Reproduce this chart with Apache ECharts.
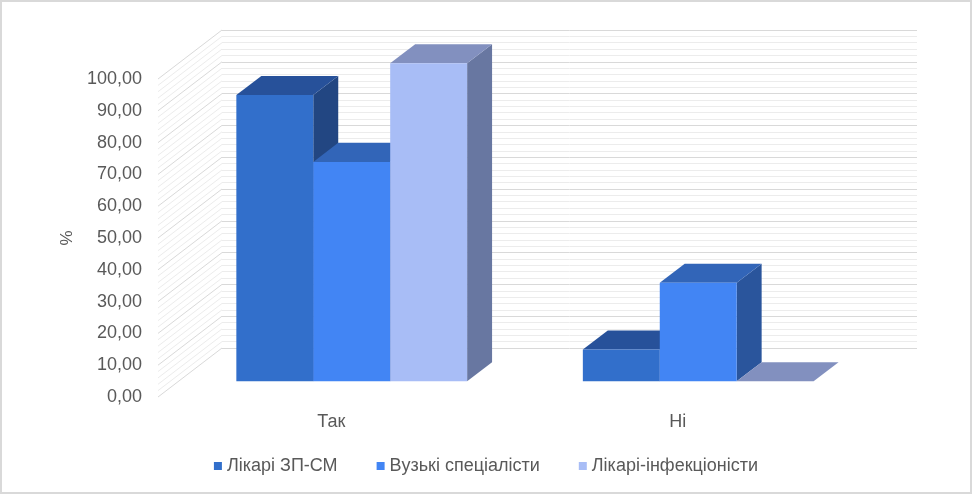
<!DOCTYPE html>
<html>
<head>
<meta charset="UTF-8">
<script type="text/javascript" src="https://cdn.jsdelivr.net/npm/echarts@6/dist/echarts.min.js"></script>
<title>Так / Ні</title>
<style>
	body { margin: 0; }
	#wrap { position: relative; width: 972px; height: 494px; }
	#main { width: 972px; height: 494px; }
	#wrap:after { content: ''; position: absolute; left: 0; top: 0; right: 0; bottom: 0;
		border: 2px solid #d9d9d9; pointer-events: none; }
</style>
</head>
<body>
<div id="wrap"><div id="main"></div></div>
<script type="text/javascript">
	// дані
	var categories = ['Так', 'Ні'];
	var seriesNames = ['Лікарі ЗП-СМ', 'Вузькі спеціалісти', 'Лікарі-інфекціоністи'];
	var zpsm = [90, 10];
	var vuzki = [69, 31];
	var infekc = [100, 0];
	var allValues = [zpsm, vuzki, infekc];

	// кольори: фронт, верх, бік
	var faces = [
		['#326FCB', '#27519A', '#224682'],
		['#4285F4', '#3265B8', '#2A559C'],
		['#A8BDF6', '#8290BF', '#6877A1']
	];

	var DEPTH = [64, -49];      // зсув задньої стінки
	var BAR_FRONT = 0.32;
	var BAR_BACK = 0.71;
	var BAR_W = 0.222;
	var FONT = 'Liberation Sans, Arial, sans-serif';

	function fmt(v){
		return v.toFixed(2).replace('.', ',');
	}

	function barRenderer(idx){
		return function(params, api){
			var cat = api.value(0), val = api.value(1);
			var base = api.coord([cat, 0]);
			var top = api.coord([cat, val]);
			var band = api.size([1, 0])[0];
			var w = band * BAR_W;
			var fx = DEPTH[0] * BAR_FRONT, fy = DEPTH[1] * BAR_FRONT;
			var dx = DEPTH[0] * (BAR_BACK - BAR_FRONT), dy = DEPTH[1] * (BAR_BACK - BAR_FRONT);
			var x0 = base[0] + fx - 1.5 * w + idx * w, x1 = x0 + w;
			var yb = base[1] + fy, yt = top[1] + fy;
			var c = faces[idx];
			return {
				type: 'group',
				children: [
					{ type: 'polygon', shape: { points: [[x1, yt], [x1 + dx, yt + dy], [x1 + dx, yb + dy], [x1, yb]] },
						style: { fill: c[2] } },
					{ type: 'polygon', shape: { points: [[x0, yt], [x1, yt], [x1 + dx, yt + dy], [x0 + dx, yt + dy]] },
						style: { fill: c[1] } },
					{ type: 'rect', shape: { x: x0, y: yt, width: w, height: yb - yt },
						style: { fill: c[0] } }
				]
			};
		};
	}

	// бічна стінка - діагоналі
	function sideWall(params, api){
		var left = params.coordSys.x;
		var lines = [];
		for (var v = 0; v <= 100; v += 2) {
			var y = api.coord([0, v])[1];
			lines.push({
				type: 'line',
				shape: { x1: left, y1: y, x2: left + DEPTH[0], y2: y + DEPTH[1] },
				style: { stroke: v % 10 === 0 ? '#d9d9d9' : '#ececec', lineWidth: 1 }
			});
		}
		return { type: 'group', children: lines };
	}

	var series = [{
		type: 'custom',
		xAxisIndex: 0, yAxisIndex: 0,
		renderItem: sideWall,
		data: [[0, 0]],
		silent: true,
		z: 1
	}];
	for (var i = 0; i < seriesNames.length; i++) {
		var d = [];
		for (var j = 0; j < categories.length; j++) d.push([j, allValues[i][j]]);
		series.push({
			name: seriesNames[i],
			type: 'custom',
			xAxisIndex: 0, yAxisIndex: 0,
			renderItem: barRenderer(i),
			itemStyle: { color: faces[i][0] },
			data: d,
			z: 5
		});
	}

	var option = {
		animation: false,
		backgroundColor: '#ffffff',
		grid: [
			{ left: 158, right: 121, top: 79, bottom: 97 },
			{ left: 222, right: 55, top: 30, bottom: 146 }
		],
		legend: {
			data: seriesNames,
			top: 452,
			left: 'center',
			icon: 'rect',
			itemWidth: 8,
			itemHeight: 8,
			itemGap: 39,
			textStyle: { fontSize: 18, color: '#595959', fontFamily: FONT }
		},
		xAxis: [
			{
				type: 'category', gridIndex: 0, data: categories,
				axisLine: { show: false }, axisTick: { show: false },
				axisLabel: { fontSize: 18, color: '#595959', fontFamily: FONT, margin: 16 }
			},
			{
				type: 'category', gridIndex: 1, data: categories,
				axisLine: { show: false }, axisTick: { show: false }, axisLabel: { show: false }
			}
		],
		yAxis: [
			{
				type: 'value', gridIndex: 0, min: 0, max: 100, interval: 10,
				name: '%', nameLocation: 'middle', nameGap: 82, nameRotate: 90,
				nameTextStyle: { fontSize: 17, color: '#595959', fontFamily: FONT },
				axisLine: { show: false }, axisTick: { show: false }, splitLine: { show: false },
				axisLabel: { fontSize: 18, color: '#595959', fontFamily: FONT, margin: 16, formatter: fmt }
			},
			{
				type: 'value', gridIndex: 1, min: 0, max: 100, interval: 10,
				axisLine: { show: false }, axisTick: { show: false }, axisLabel: { show: false },
				splitLine: { show: true, lineStyle: { color: '#d9d9d9', width: 1 } },
				minorTick: { show: false, splitNumber: 5 },
				minorSplitLine: { show: true, lineStyle: { color: '#ececec', width: 1 } }
			}
		],
		series: series
	};

	var myChart = echarts.init(document.getElementById('main'));
	myChart.setOption(option);
</script>
</body>
</html>
